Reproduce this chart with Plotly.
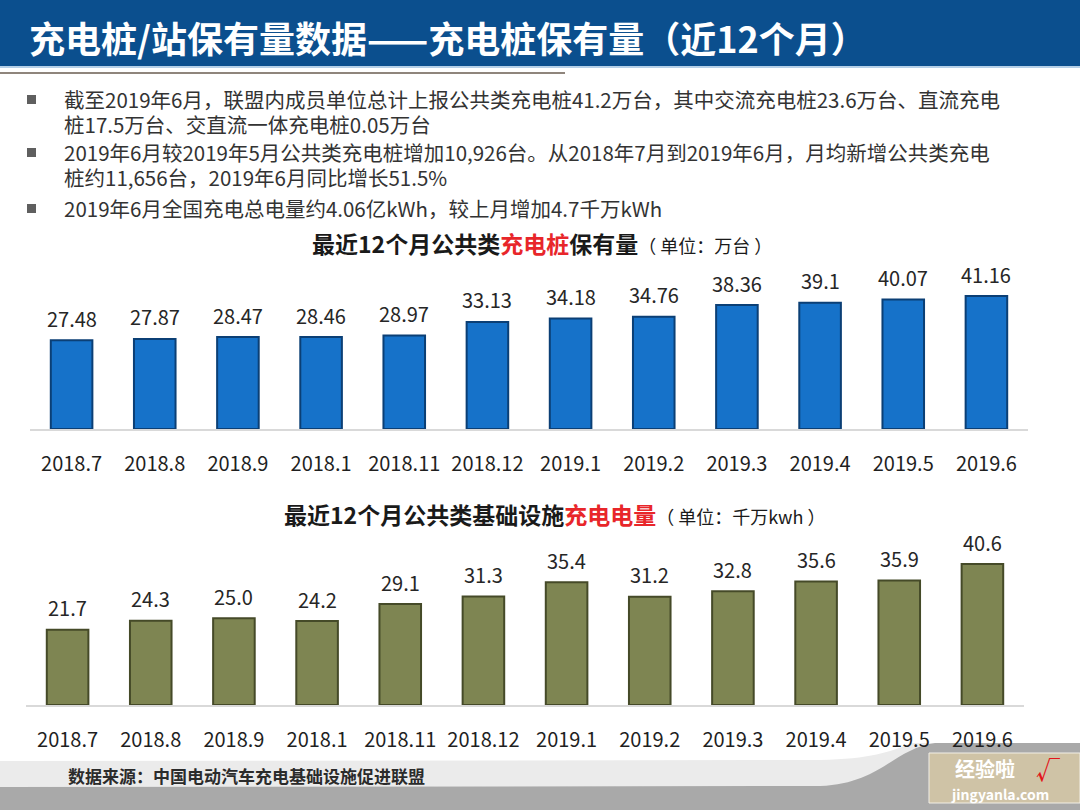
import plotly.graph_objects as go

W, H = 1080, 810

# ---------------- data ----------------
months = ["2018.7", "2018.8", "2018.9", "2018.1", "2018.11", "2018.12",
          "2019.1", "2019.2", "2019.3", "2019.4", "2019.5", "2019.6"]
piles = [27.48, 27.87, 28.47, 28.46, 28.97, 33.13, 34.18, 34.76, 38.36, 39.1, 40.07, 41.16]
pile_labels = ["27.48", "27.87", "28.47", "28.46", "28.97", "33.13",
               "34.18", "34.76", "38.36", "39.1", "40.07", "41.16"]
energy = [21.7, 24.3, 25.0, 24.2, 29.1, 31.3, 35.4, 31.2, 32.8, 35.6, 35.9, 40.6]
energy_labels = ["21.7", "24.3", "25.0", "24.2", "29.1", "31.3",
                 "35.4", "31.2", "32.8", "35.6", "35.9", "40.6"]

header_title = "充电桩/站保有量数据——充电桩保有量（近12个月）"
bullet_lines = [
    ("截至2019年6月，联盟内成员单位总计上报公共类充电桩41.2万台，其中交流充电桩23.6万台、直流充电", True),
    ("桩17.5万台、交直流一体充电桩0.05万台", False),
    ("2019年6月较2019年5月公共类充电桩增加10,926台。从2018年7月到2019年6月，月均新增公共类充电", True),
    ("桩约11,656台，2019年6月同比增长51.5%", False),
    ("2019年6月全国充电总电量约4.06亿kWh，较上月增加4.7千万kWh", True),
]
title1 = ('<b>最近12个月公共类<span style="color:#e8262a">充电桩</span>保有量</b>'
          '<span style="font-size:18px">（ 单位：万台 ）</span>')
title2 = ('<b>最近12个月公共类基础设施<span style="color:#e8262a">充电电量</span></b>'
          '<span style="font-size:18px">（ 单位：千万kwh ）</span>')
source_text = "数据来源：中国电动汽车充电基础设施促进联盟"

FONT = "Noto Sans CJK SC, Noto Sans, sans-serif"

idx = list(range(len(months)))


def px(x):
    return x / W


def py(y):
    return 1 - y / H


def path(cmds):
    out = []
    for cmd, *coords in cmds:
        pts = []
        for i in range(0, len(coords), 2):
            pts.append(f"{px(coords[i]):.5f},{py(coords[i + 1]):.5f}")
        out.append(cmd + " " + " ".join(pts))
    return " ".join(out) + " Z"


fig = go.Figure()

fig.add_trace(go.Bar(
    x=idx, y=piles, xaxis="x", yaxis="y", width=0.5,
    marker=dict(color="#1672c9", line=dict(color="#0b3f75", width=2)),
    hovertext=months, showlegend=False,
))
fig.add_trace(go.Bar(
    x=idx, y=energy, xaxis="x2", yaxis="y2", width=0.5,
    marker=dict(color="#7e8552", line=dict(color="#454a28", width=2)),
    hovertext=months, showlegend=False,
))

annotations = []
for i, v, t in zip(idx, piles, pile_labels):
    annotations.append(dict(x=i, y=v, xref="x", yref="y", text=t, showarrow=False,
                            yanchor="middle", yshift=22,
                            font=dict(family=FONT, size=20, color="#262626")))
for i, v, t in zip(idx, energy, energy_labels):
    annotations.append(dict(x=i, y=v, xref="x2", yref="y2", text=t, showarrow=False,
                            yanchor="middle", yshift=22,
                            font=dict(family=FONT, size=20, color="#262626")))

annotations.append(dict(x=px(27), y=py(37), xref="paper", yref="paper", xanchor="left",
                        yanchor="middle", text=f"<b>{header_title}</b>", showarrow=False,
                        font=dict(family=FONT, size=36, color="white")))

bullet_y = [99, 124, 152, 177, 208]
shapes = []
for (line, has_bullet), yy in zip(bullet_lines, bullet_y):
    annotations.append(dict(x=px(62), y=py(yy), xref="paper", yref="paper", xanchor="left",
                            yanchor="middle", text=line, showarrow=False,
                            font=dict(family=FONT, size=20.5, color="#333333")))
    if has_bullet:
        shapes.append(dict(type="rect", xref="paper", yref="paper",
                           x0=px(27), x1=px(36), y0=py(yy - 4), y1=py(yy + 5),
                           fillcolor="#5f5f5f", line=dict(width=0)))

annotations.append(dict(x=px(542), y=py(243), xref="paper", yref="paper", xanchor="center",
                        yanchor="middle", text=title1, showarrow=False,
                        font=dict(family=FONT, size=23, color="#1a1a1a")))
annotations.append(dict(x=px(555), y=py(514), xref="paper", yref="paper", xanchor="center",
                        yanchor="middle", text=title2, showarrow=False,
                        font=dict(family=FONT, size=23, color="#1a1a1a")))

annotations.append(dict(x=px(66), y=py(775), xref="paper", yref="paper", xanchor="left",
                        yanchor="middle", text=f"<b>{source_text}</b>", showarrow=False,
                        font=dict(family=FONT, size=17, color="#2b2b2b")))

annotations.append(dict(x=px(985), y=py(768), xref="paper", yref="paper", xanchor="center",
                        yanchor="middle", text="<b>经验啦</b>", showarrow=False,
                        font=dict(family=FONT, size=20, color="white")))
annotations.append(dict(x=px(1048), y=py(768), xref="paper", yref="paper", xanchor="center",
                        yanchor="middle", text="<b>√</b>", showarrow=False,
                        font=dict(family=FONT, size=24, color="#e3151b")))
annotations.append(dict(x=px(1000), y=py(794), xref="paper", yref="paper", xanchor="center",
                        yanchor="middle", text="<b>jingyanla.com</b>", showarrow=False,
                        font=dict(family=FONT, size=14, color="white")))

shapes += [
    dict(type="rect", xref="paper", yref="paper", x0=0, x1=1, y0=py(66), y1=1,
         fillcolor="#0b4f8e", line=dict(width=0), layer="below"),
    dict(type="line", xref="paper", yref="paper", x0=0, x1=1, y0=py(67), y1=py(67),
         line=dict(color="#9cc0e0", width=1.5), layer="below"),
    dict(type="line", xref="paper", yref="paper", x0=0, x1=px(565), y0=py(73), y1=py(73),
         line=dict(color="#8f857c", width=2), layer="below"),
    dict(type="path", xref="paper", yref="paper",
         path=path([("M", 0, 761), ("L", 820, 760), ("C", 870, 759, 890, 752, 912, 743),
                    ("L", 1080, 743), ("L", 1080, 810), ("L", 0, 810)]),
         fillcolor="#ebebeb", line=dict(width=0), layer="below"),
    dict(type="path", xref="paper", yref="paper",
         path=path([("M", 0, 787), ("L", 820, 786), ("C", 880, 784, 895, 748, 935, 743),
                    ("L", 1080, 743), ("L", 1080, 810), ("L", 0, 810)]),
         fillcolor="#a9a9a9", line=dict(width=0), layer="below"),
    dict(type="rect", xref="paper", yref="paper", x0=px(929), x1=px(1080), y0=py(803), y1=py(753),
         fillcolor="#cfc3a6", line=dict(color="#f2efe6", width=1), layer="below"),
]

scale1 = 3.23
scale2 = 3.47
base1, top1 = 429, 255
base2, top2 = 705, 530


def xaxis_cfg(dom, anchor):
    return dict(domain=dom, anchor=anchor, range=[-0.5, 11.5], automargin=False,
                tickmode="array", tickvals=idx, ticktext=months,
                showline=True, linecolor="#d9d9d9", linewidth=1.5,
                showgrid=False, zeroline=False, ticks="outside", ticklen=16,
                tickcolor="rgba(0,0,0,0)", fixedrange=True,
                tickfont=dict(family=FONT, size=20, color="#1f1f1f"))


fig.update_layout(
    width=W, height=H, autosize=False,
    margin=dict(l=0, r=0, t=0, b=0, pad=0),
    paper_bgcolor="white", plot_bgcolor="rgba(0,0,0,0)",
    font=dict(family=FONT),
    xaxis=xaxis_cfg([px(30), px(1028)], "y"),
    yaxis=dict(domain=[py(base1), py(top1)], range=[0, (base1 - top1) / scale1],
               visible=False, automargin=False, fixedrange=True),
    xaxis2=xaxis_cfg([px(26), px(1024)], "y2"),
    yaxis2=dict(domain=[py(base2), py(top2)], range=[0, (base2 - top2) / scale2],
                visible=False, automargin=False, fixedrange=True),
    annotations=annotations,
    shapes=shapes,
)

fig.write_html("out.html", config={"displayModeBar": False},
               post_script="document.body.style.margin='0';document.body.style.padding='0';")
